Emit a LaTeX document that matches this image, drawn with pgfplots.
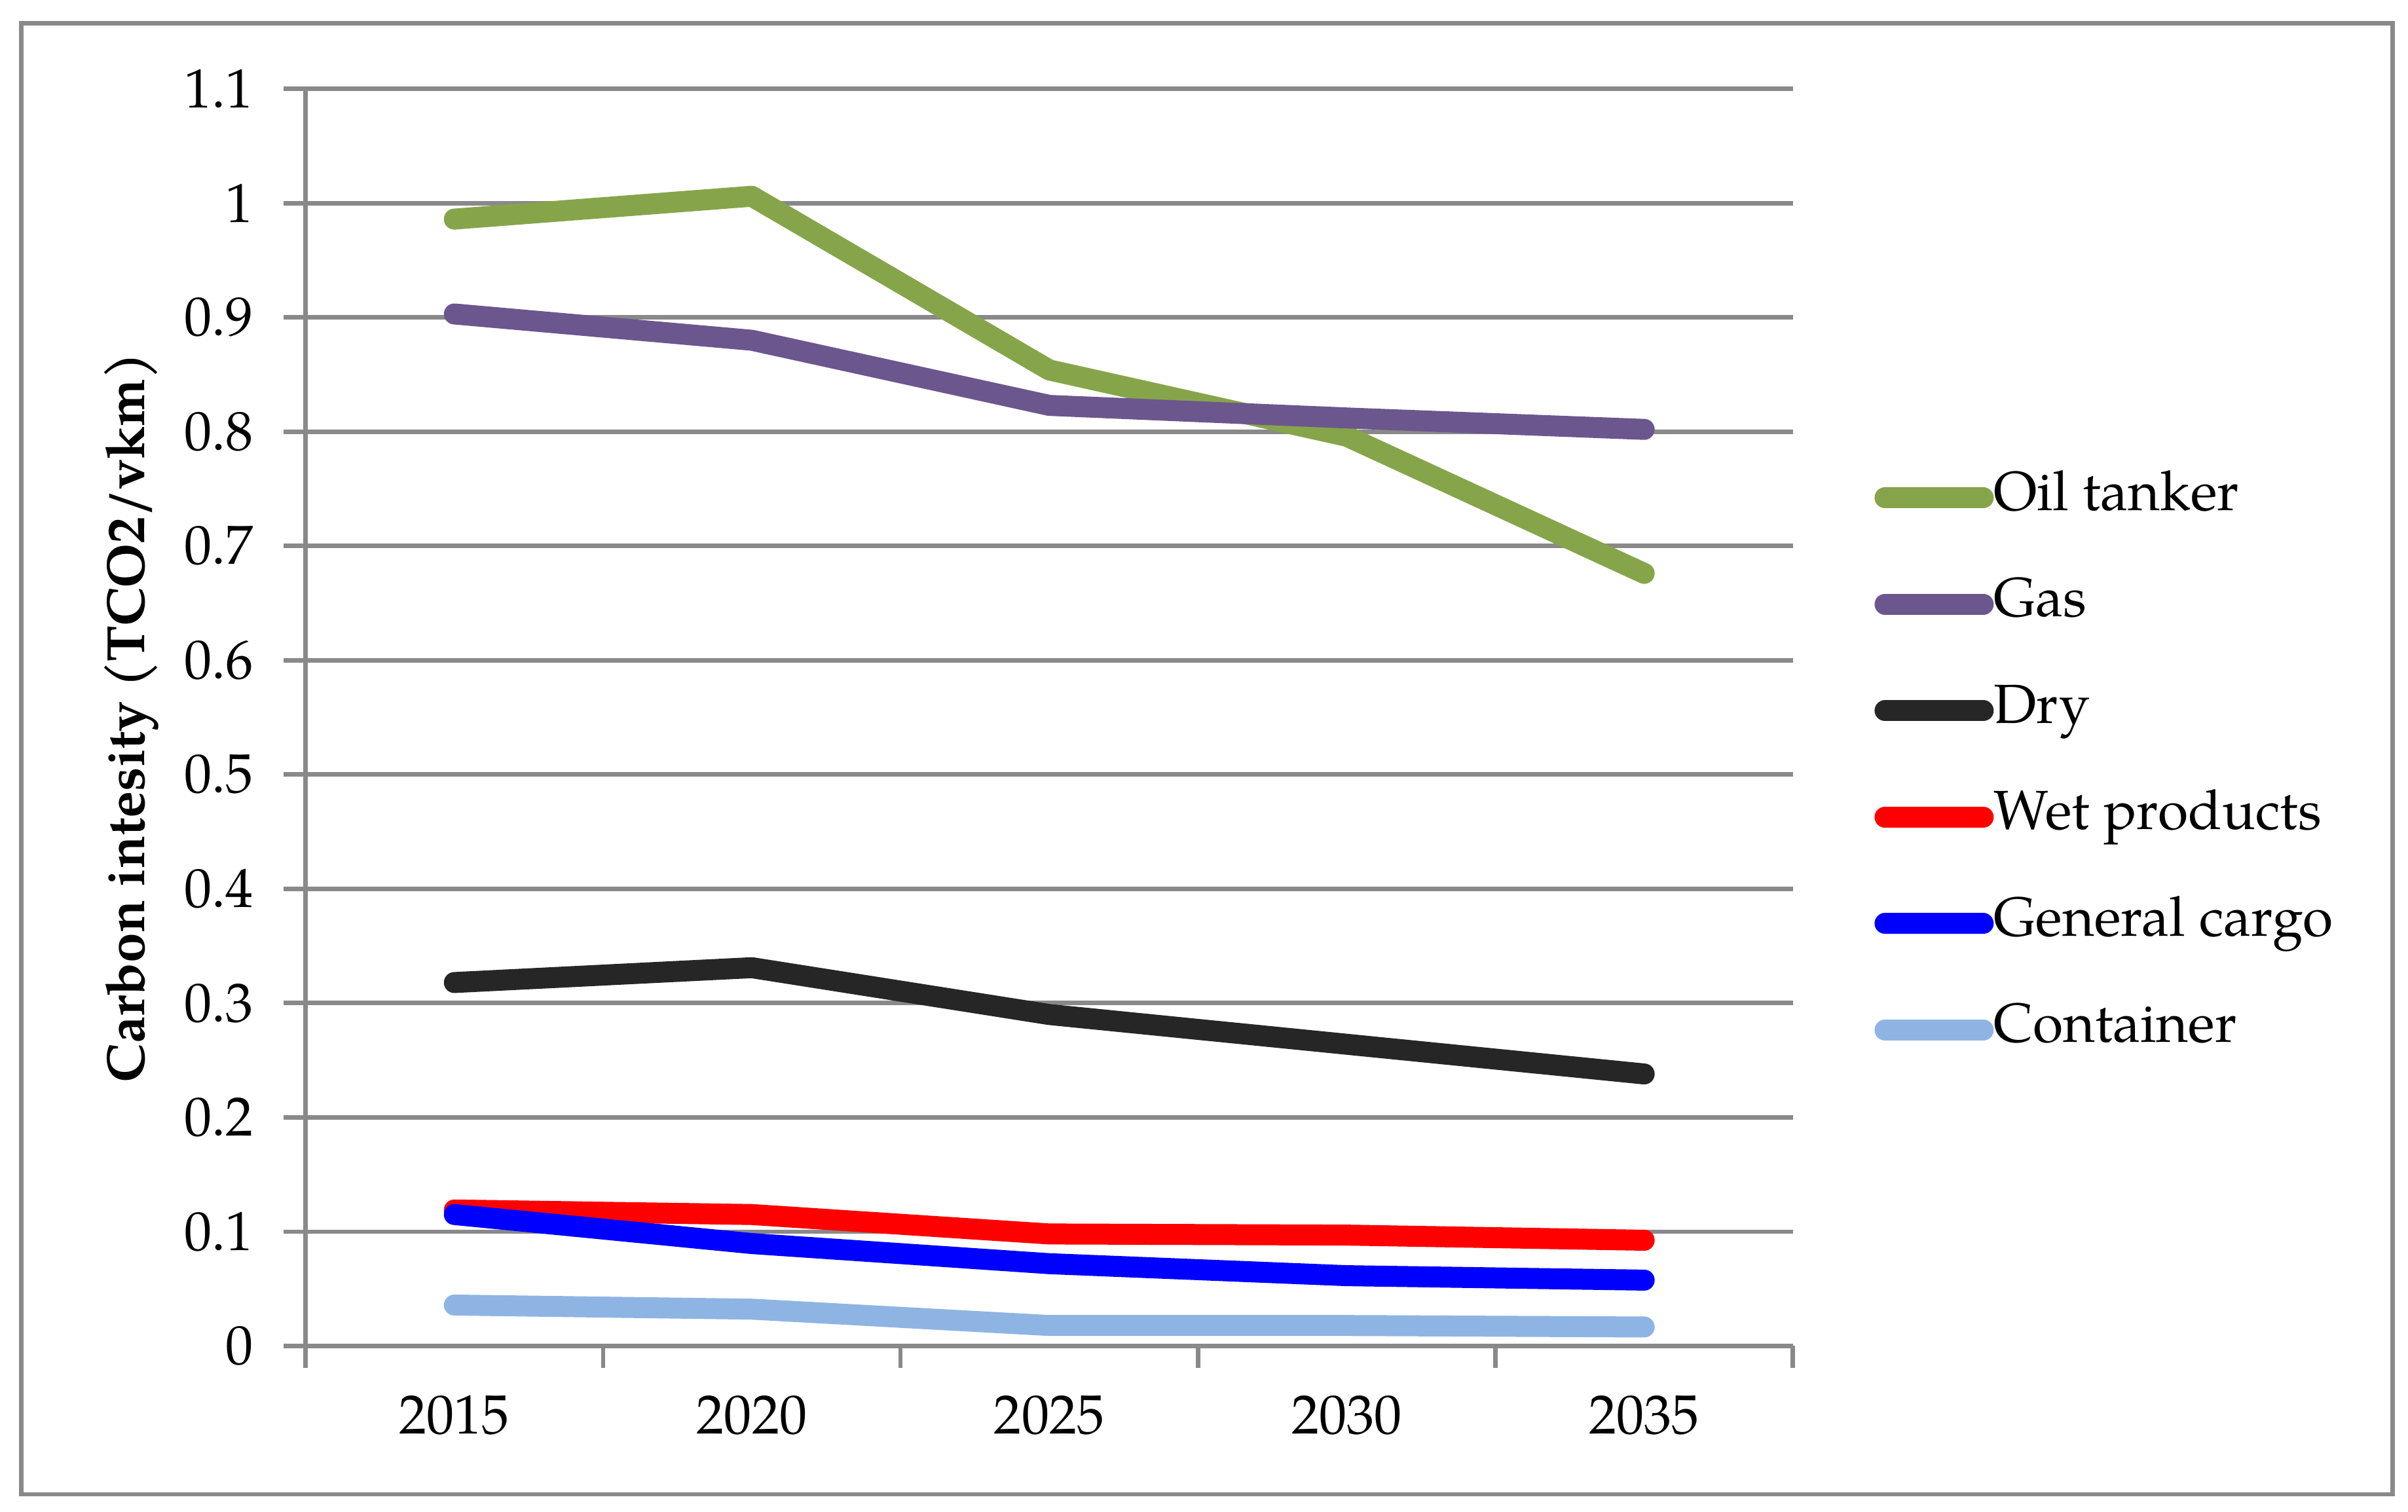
\documentclass[border=0pt]{standalone}
\usepackage{fontspec}
\setmainfont{texgyrepagella}[Extension=.otf, UprightFont=*-regular, BoldFont=*-bold, ItalicFont=*-italic, BoldItalicFont=*-bolditalic]
\usepackage{pgfplots}
\pgfplotsset{compat=1.18}

\definecolor{oilc}{RGB}{134,165,74}
\definecolor{gasc}{RGB}{108,86,142}
\definecolor{dryc}{RGB}{38,38,38}
\definecolor{contc}{RGB}{142,180,227}
\definecolor{gridc}{RGB}{137,137,137}

\begin{document}
\begin{tikzpicture}
  \path[use as bounding box] (0,0) rectangle (436.5pt,274pt);
  \draw[gridc, line width=0.8pt] (3.9pt,3.1pt) rectangle (433.7pt,269.8pt);
  \begin{axis}[
      at={(55.4pt,30pt)}, anchor=south west,
      scale only axis,
      width=269.6pt, height=227.9pt,
      xmin=-0.5, xmax=4.5,
      ymin=0, ymax=1.1,
      axis lines*=left,
      axis line style={gridc, line width=0.8pt},
      xtick={-0.5,0.5,1.5,2.5,3.5,4.5},
      xticklabels={2015,2020,2025,2030,2035},
      x tick label as interval,
      ytick={0,0.1,0.2,0.3,0.4,0.5,0.6,0.7,0.8,0.9,1,1.1},
      yticklabels={0,0.1,0.2,0.3,0.4,0.5,0.6,0.7,0.8,0.9,1,1.1},
      tick align=outside,
      major tick length=4pt,
      tick style={gridc, line width=0.8pt},
      ymajorgrids,
      major grid style={gridc, line width=0.8pt},
      tick label style={font=\fontsize{10}{12}\selectfont, text=black},
      yticklabel style={xshift=-2pt},
      xticklabel style={yshift=-1.5pt},
      ylabel={\textbf{Carbon intesity (TCO2/vkm)}},
      every axis y label/.style={at={(axis description cs:-0.1172,0.5)}, rotate=90, anchor=center, font=\fontsize{9.75}{12}\selectfont},
      legend style={at={(1,0.463)}, anchor=west, xshift=14.6pt, draw=none, fill=none, inner sep=0pt, row sep=9.8pt,
        nodes={inner xsep=0pt, inner ysep=0pt, text height=7pt, text depth=2.5pt, font=\fontsize{10}{12}\selectfont}},
      legend cell align=left,
      legend image code/.code={\draw[#1, line cap=round] (1.9pt,0pt) -- (19.7pt,0pt);},
      every axis plot/.append style={line width=3.8pt, line cap=round, line join=round},
      clip=false,
    ]
    \addplot[oilc] coordinates {(0,0.986) (1,1.006) (2,0.854) (3,0.796) (4,0.676)};
    \addlegendentry{Oil tanker}
    \addplot[gasc] coordinates {(0,0.903) (1,0.880) (2,0.823) (3,0.812) (4,0.802)};
    \addlegendentry{Gas}
    \addplot[dryc] coordinates {(0,0.318) (1,0.331) (2,0.290) (3,0.264) (4,0.238)};
    \addlegendentry{Dry}
    \addplot[red] coordinates {(0,0.119) (1,0.115) (2,0.098) (3,0.097) (4,0.0925)};
    \addlegendentry{Wet products}
    \addplot[blue] coordinates {(0,0.115) (1,0.0896) (2,0.072) (3,0.0615) (4,0.0576)};
    \addlegendentry{General cargo}
    \addplot[contc] coordinates {(0,0.0358) (1,0.0322) (2,0.0179) (3,0.0179) (4,0.0166)};
    \addlegendentry{Container}
  \end{axis}
\end{tikzpicture}
\end{document}
